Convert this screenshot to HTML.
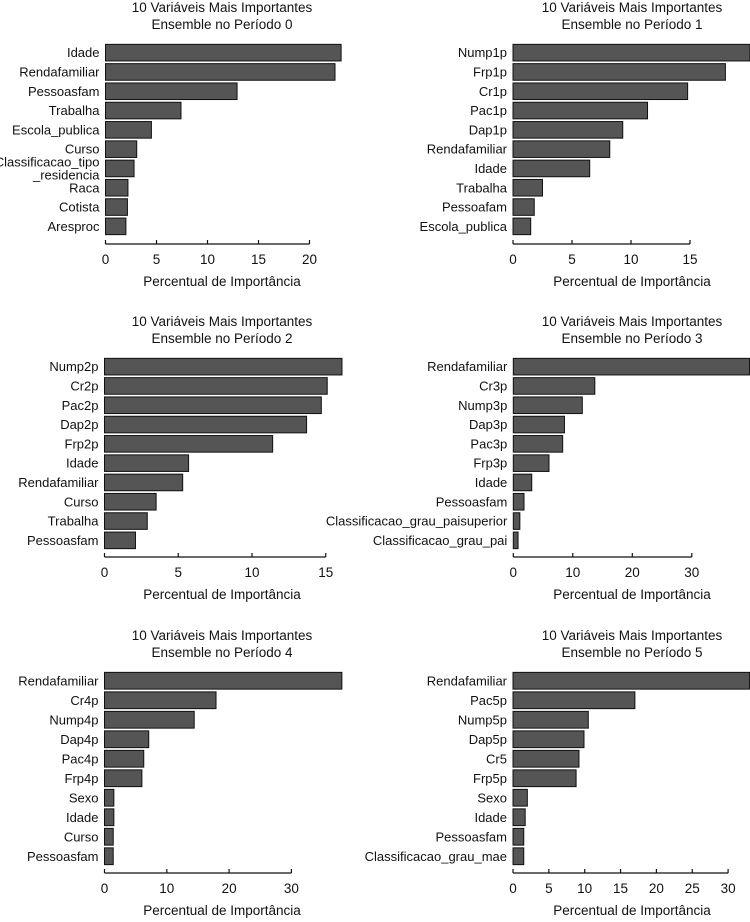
<!DOCTYPE html>
<html><head><meta charset="utf-8"><style>
body{margin:0;background:#fff}
svg{display:block}
text{font-family:"Liberation Sans",sans-serif;fill:#111}
</style></head><body>
<svg id="c" width="750" height="922" viewBox="0 0 750 922"></svg>
<script>
const titles0 = ["Período 0","Período 1","Período 2","Período 3","Período 4","Período 5"];
const labelsP0 = ["Idade","Rendafamiliar","Pessoasfam","Trabalha","Escola_publica","Curso","Classificacao_tipo\n_residencia","Raca","Cotista","Aresproc"];
const valuesP0 = [23.1,22.5,12.9,7.4,4.5,3.06,2.8,2.2,2.15,2.0];
const ticksP0 = [0,5,10,15,20];
const labelsP1 = ["Nump1p","Frp1p","Cr1p","Pac1p","Dap1p","Rendafamiliar","Idade","Trabalha","Pessoafam","Escola_publica"];
const valuesP1 = [20.1,18.0,14.8,11.4,9.3,8.2,6.5,2.5,1.8,1.5];
const ticksP1 = [0,5,10,15];
const labelsP2 = ["Nump2p","Cr2p","Pac2p","Dap2p","Frp2p","Idade","Rendafamiliar","Curso","Trabalha","Pessoasfam"];
const valuesP2 = [16.1,15.1,14.7,13.7,11.4,5.7,5.3,3.5,2.9,2.1];
const ticksP2 = [0,5,10,15];
const labelsP3 = ["Rendafamiliar","Cr3p","Nump3p","Dap3p","Pac3p","Frp3p","Idade","Pessoasfam","Classificacao_grau_paisuperior","Classificacao_grau_pai"];
const valuesP3 = [39.7,13.7,11.6,8.6,8.3,6.0,3.1,1.8,1.1,0.8];
const ticksP3 = [0,10,20,30];
const labelsP4 = ["Rendafamiliar","Cr4p","Nump4p","Dap4p","Pac4p","Frp4p","Sexo","Idade","Curso","Pessoasfam"];
const valuesP4 = [38.1,17.9,14.4,7.1,6.3,6.0,1.5,1.5,1.4,1.4];
const ticksP4 = [0,10,20,30];
const labelsP5 = ["Rendafamiliar","Pac5p","Nump5p","Dap5p","Cr5","Frp5p","Sexo","Idade","Pessoasfam","Classificacao_grau_mae"];
const valuesP5 = [33.0,17.0,10.5,9.9,9.2,8.8,2.0,1.7,1.5,1.5];
const ticksP5 = [0,5,10,15,20,25,30];

const svg = document.getElementById('c');
const NS = 'http://www.w3.org/2000/svg';
function mk(tag, attrs, parent){const e=document.createElementNS(NS,tag);for(const k in attrs)e.setAttribute(k,attrs[k]);parent.appendChild(e);return e;}

const panels = [
 {L:labelsP0,V:valuesP0,T:ticksP0,x0:105.5,ppu:10.2,right:342,col:0,row:0},
 {L:labelsP1,V:valuesP1,T:ticksP1,x0:513,ppu:11.8,right:750,col:1,row:0},
 {L:labelsP2,V:valuesP2,T:ticksP2,x0:104.5,ppu:14.75,right:342,col:0,row:1},
 {L:labelsP3,V:valuesP3,T:ticksP3,x0:513.3,ppu:5.95,right:750,col:1,row:1},
 {L:labelsP4,V:valuesP4,T:ticksP4,x0:104.5,ppu:6.23,right:342,col:0,row:2},
 {L:labelsP5,V:valuesP5,T:ticksP5,x0:513,ppu:7.17,right:750,col:1,row:2}
];
const rowTop=[43,357,671], rowBot=[236,550,866], rowAxis=[244,557,873];

panels.forEach((p,i)=>{
  const g = mk('g',{},svg);
  
  
  const top=rowTop[p.row], bot=rowBot[p.row], ay=rowAxis[p.row];
  const band=(bot-top)/p.L.length, bh=band*0.86;
  const cx = p.col===0?222:632;
  const xs = v=>p.x0+v*p.ppu;
  const t1=mk('text',{x:cx,y:top-31,'text-anchor':'middle','font-size':13.5},g);
  t1.textContent='10 Variáveis Mais Importantes';
  
  
  const t2=mk('text',{x:cx,y:top-14,'text-anchor':'middle','font-size':13.5},g);
  t2.textContent='Ensemble no '+titles0[i];
  
  
  p.L.forEach((lab,j)=>{
    const y=top+j*band+(band-bh)/2;
    const w=Math.min(xs(p.V[j]),p.right)-p.x0;
    const r=mk('rect',{x:p.x0,y:y,width:Math.max(w,0),height:bh,fill:'#555','stroke':'#111','stroke-width':1},g);
    
    
    const lines=lab.split('\n');
    const cy=y+bh/2;
    lines.forEach((ln,k)=>{
      const t=mk('text',{x:p.x0-6,y:cy+4.5+(k-(lines.length-1)/2)*13,'text-anchor':'end','font-size':13},g);
      t.textContent=ln;
      
      
    });
  });
  const tmax=p.T[p.T.length-1];
  const ax=mk('line',{x1:p.x0,x2:xs(tmax),y1:ay,y2:ay,stroke:'#111','stroke-width':1.2},g);
  
  
  p.T.forEach(tv=>{
    mk('line',{x1:xs(tv),x2:xs(tv),y1:ay-4,y2:ay,stroke:'#111','stroke-width':1.2},g);
    const t=mk('text',{x:xs(tv),y:ay+20,'text-anchor':'middle','font-size':13.5},g);
    t.textContent=tv;
    
    
  });
  const xl=mk('text',{x:cx,y:ay+42,'text-anchor':'middle','font-size':13.5},g);
  xl.textContent='Percentual de Importância';
  
  
});
</script>
</body></html>
